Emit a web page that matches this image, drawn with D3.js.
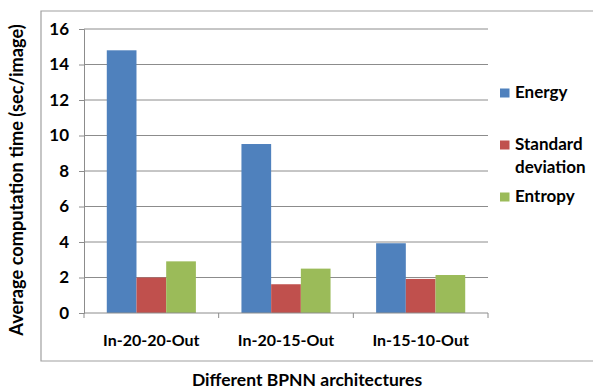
<!DOCTYPE html>
<html><head><meta charset="utf-8">
<script src="https://cdn.jsdelivr.net/npm/d3@7"></script>
<style>body{margin:0;background:#fff}svg{display:block}text{font-family:Lato,"Open Sans",sans-serif;font-weight:bold;fill:#000}</style>
</head><body><svg id="c" width="593" height="391"></svg>
<script>
const categories = ["In-20-20-Out", "In-20-15-Out", "In-15-10-Out"];
const seriesNames = ["Energy", "Standard deviation", "Entropy"];
const energy = [14.8, 9.52, 3.93];
const stdDev = [2.0, 1.62, 1.92];
const entropy = [2.91, 2.5, 2.14];
const yTicks = [0, 2, 4, 6, 8, 10, 12, 14, 16];
const colors = ["#4F81BD", "#C0504D", "#9BBB59"];
const seriesValues = [energy, stdDev, entropy];

const svg = d3.select("#c");
svg.append("path").attr("d", "M593,11H41V361H593").attr("fill","none").attr("stroke","#a0a0a0").attr("stroke-width",1.2);

const x0 = d3.scaleBand().domain(categories).range([84, 488]).paddingInner(0).paddingOuter(0);
const y = d3.scaleLinear().domain([0, 16]).range([313, 29]);
const barW = 29.7;
const groupW = barW * 3;

svg.append("g").selectAll("line").data(yTicks.filter(d => d > 0)).join("line")
  .attr("x1", 84).attr("x2", 488).attr("y1", d => y(d)).attr("y2", d => y(d))
  .attr("stroke", "#8c8c8c").attr("stroke-width", 1);

seriesValues.forEach((vals, si) => {
  svg.append("g").selectAll("rect").data(vals).join("rect")
    .attr("x", (d, i) => x0(categories[i]) + x0.bandwidth()/2 - groupW/2 + si*barW)
    .attr("width", barW)
    .attr("y", d => y(d))
    .attr("height", d => y(0) - y(d))
    .attr("fill", colors[si]);
});

const ya = svg.append("g").attr("transform", "translate(84,0)")
  .call(d3.axisLeft(y).tickValues(yTicks).tickSize(5).tickPadding(10).tickFormat(d3.format("d")));
ya.select(".domain").attr("stroke", "#8c8c8c");
ya.selectAll(".tick line").attr("stroke", "#8c8c8c");
ya.selectAll("text").attr("font-size", 17).attr("font-family", "Lato, sans-serif").attr("font-weight","bold").attr("fill","#000");

const xa = svg.append("g").attr("transform", "translate(0,313)")
  .call(d3.axisBottom(x0).tickSize(0).tickPadding(22));
xa.select(".domain").attr("stroke", "#8c8c8c").attr("d", "M84,0H488");
xa.selectAll("text").attr("font-size", 16).attr("font-family", "Lato, sans-serif").attr("font-weight","bold").attr("fill","#000");
svg.append("g").selectAll("line").data([0,1,2,3]).join("line")
  .attr("x1", d => 84 + d * x0.bandwidth()).attr("x2", d => 84 + d * x0.bandwidth())
  .attr("y1", 313).attr("y2", 318).attr("stroke", "#8c8c8c");

svg.append("text").attr("transform", "translate(23,180) rotate(-90)").attr("text-anchor","middle")
  .attr("font-size", 18.2).text("Average computation time (sec/image)");
svg.append("text").attr("x", 307).attr("y", 386).attr("text-anchor","middle")
  .attr("font-size", 17.5).text("Different BPNN architectures");

const legend = [
  {lines: ["Energy"], y: 98},
  {lines: ["Standard", "deviation"], y: 150},
  {lines: ["Entropy"], y: 202}
];
legend.forEach((l, i) => {
  svg.append("rect").attr("x", 500).attr("y", l.y - 9.5).attr("width", 9.5).attr("height", 9).attr("fill", colors[i]);
  l.lines.forEach((t, j) => {
    svg.append("text").attr("x", 515).attr("y", l.y + j*23).attr("font-size", 17).text(t);
  });
});
</script></body></html>
